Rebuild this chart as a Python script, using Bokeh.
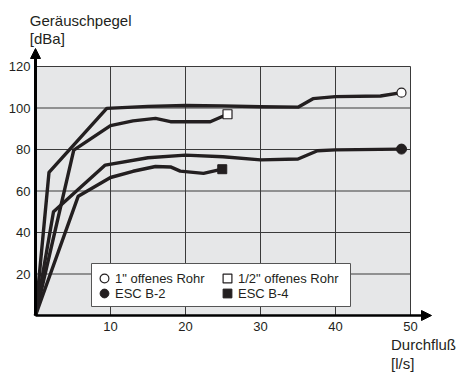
from bokeh.plotting import figure
from bokeh.models import (Label, Arrow, NormalHead, Legend, LegendItem, Range1d,
                          BoxAnnotation)
from bokeh.embed import file_html
from bokeh.resources import INLINE

# --- data ---
x_1in = [0, 1.8, 9.5, 15, 20, 25, 30, 35, 37, 40, 46, 48.8]
y_1in = [0, 69, 99.8, 100.8, 101.2, 101, 100.6, 100.4, 104.5, 105.5, 105.8, 107.4]

x_half = [0, 5.1, 10, 13, 16, 18, 23.3, 25.6]
y_half = [0, 79.7, 91.5, 93.8, 95, 93.4, 93.4, 97]

x_b2 = [0, 2.4, 9.3, 15, 20, 25, 30, 35, 37.6, 40, 48.8]
y_b2 = [0, 50, 72.5, 76, 77.3, 76.5, 75, 75.4, 79.4, 79.8, 80.2]

x_b4 = [0, 5.7, 10, 13, 16, 18, 19.3, 22.4, 24.9]
y_b4 = [0, 57.5, 66.5, 69.5, 71.8, 71.6, 69.6, 68.5, 70.5]

x_ticks = [10, 20, 30, 40, 50]
y_ticks = [20, 40, 60, 80, 100, 120]
x_max = 50
y_max = 120

labels = ['1" offenes Rohr', 'ESC B-2', '1/2" offenes Rohr', 'ESC B-4']
y_title = ["Geräuschpegel", "[dBa]"]
x_title = ["Durchfluß", "[l/s]"]

FONT = "Liberation Sans"
INK = "#231f20"

# --- layout: plot area inside the 456x376 canvas ---
W, H = 456, 376
left, right, top, bottom = 35, 410, 66, 315
kx = (right - left) / x_max
ky = (bottom - top) / y_max

def dx(px):
    return (px - left) / kx

def dy(py):
    return (bottom - py) / ky

p = figure(width=W, height=H, output_backend="svg", toolbar_location=None,
           x_axis_type=None, y_axis_type=None,
           x_range=Range1d(dx(0), dx(W)), y_range=Range1d(dy(H), dy(0)),
           min_border=0)
p.outline_line_color = None
p.background_fill_color = "white"
p.border_fill_color = "white"

# plot area background
p.quad(left=[0], right=[x_max], bottom=[0], top=[y_max],
       fill_color="#e6e7e8", line_color=None)

# grid lines
p.segment(x0=x_ticks, x1=x_ticks, y0=[0] * len(x_ticks), y1=[y_max] * len(x_ticks),
          line_color="#3a3a3a", line_width=1)
p.segment(x0=[0] * len(y_ticks), x1=[x_max] * len(y_ticks), y0=y_ticks, y1=y_ticks,
          line_color="#3a3a3a", line_width=1)

# tick labels
p.text(x=x_ticks, y=[0] * len(x_ticks), text=[str(t) for t in x_ticks],
       y_offset=6, text_align="center", text_baseline="top",
       text_font={"value": FONT}, text_font_size="13px", text_color=INK)
p.text(x=[0] * len(y_ticks), y=y_ticks, text=[str(t) for t in y_ticks],
       x_offset=-5, text_align="right", text_baseline="middle",
       text_font={"value": FONT}, text_font_size="13px", text_color=INK)

# curves
lw = 3.4
for xs, ys in ((x_1in, y_1in), (x_half, y_half), (x_b2, y_b2), (x_b4, y_b4)):
    p.line(xs, ys, line_color=INK, line_width=lw, line_join="round")

r1 = p.scatter([x_1in[-1]], [y_1in[-1]], marker="circle", size=9,
               fill_color="white", line_color=INK, line_width=1.2)
r2 = p.scatter([x_half[-1]], [y_half[-1]], marker="square", size=9,
               fill_color="white", line_color=INK, line_width=1.2)
r3 = p.scatter([x_b2[-1]], [y_b2[-1]], marker="circle", size=10,
               fill_color=INK, line_color=INK, line_width=1)
r4 = p.scatter([x_b4[-1]], [y_b4[-1]], marker="square", size=9,
               fill_color=INK, line_color=INK, line_width=1)

# axis arrows
p.add_layout(Arrow(end=NormalHead(size=10, fill_color="black", line_color="black"),
                   x_start=0, y_start=0, x_end=0, y_end=dy(48),
                   line_color="black", line_width=3))
p.add_layout(Arrow(end=NormalHead(size=10, fill_color="black", line_color="black"),
                   x_start=0, y_start=0, x_end=dx(431), y_end=0,
                   line_color="black", line_width=2.5))

# legend frame
p.add_layout(BoxAnnotation(left=dx(91), right=dx(350), top=dy(263), bottom=dy(306),
                           fill_color="white", fill_alpha=1,
                           line_color="#555555", line_width=1, line_alpha=1))

# legend: two single-row legends stacked
common = dict(orientation="horizontal",
              label_text_font=FONT, label_text_font_size="13px",
              label_text_color=INK, glyph_width=22, glyph_height=22,
              label_height=13, label_width=101, label_standoff=0,
              padding=0, spacing=0, margin=0,
              border_line_color=None, background_fill_alpha=0)
legA = Legend(items=[LegendItem(label=labels[0], renderers=[r1]),
                     LegendItem(label=labels[2], renderers=[r2])],
              location=(93, H - 289), **common)
legB = Legend(items=[LegendItem(label=labels[1], renderers=[r3]),
                     LegendItem(label=labels[3], renderers=[r4])],
              location=(93, H - 304), **common)
p.add_layout(legA, "center")
p.add_layout(legB, "center")

# axis titles
def lab(x, y, t):
    p.add_layout(Label(x=x, y=y, text=t, text_font=FONT, text_font_size="15px",
                       text_color=INK, text_baseline="alphabetic", text_align="left"))

lab(dx(29.3), dy(20), y_title[0])
lab(dx(29.3), dy(38), y_title[1])
lab(dx(390.5), dy(344), x_title[0])
lab(dx(390.5), dy(363), x_title[1])

open("out.html", "w").write(file_html(p, INLINE))
